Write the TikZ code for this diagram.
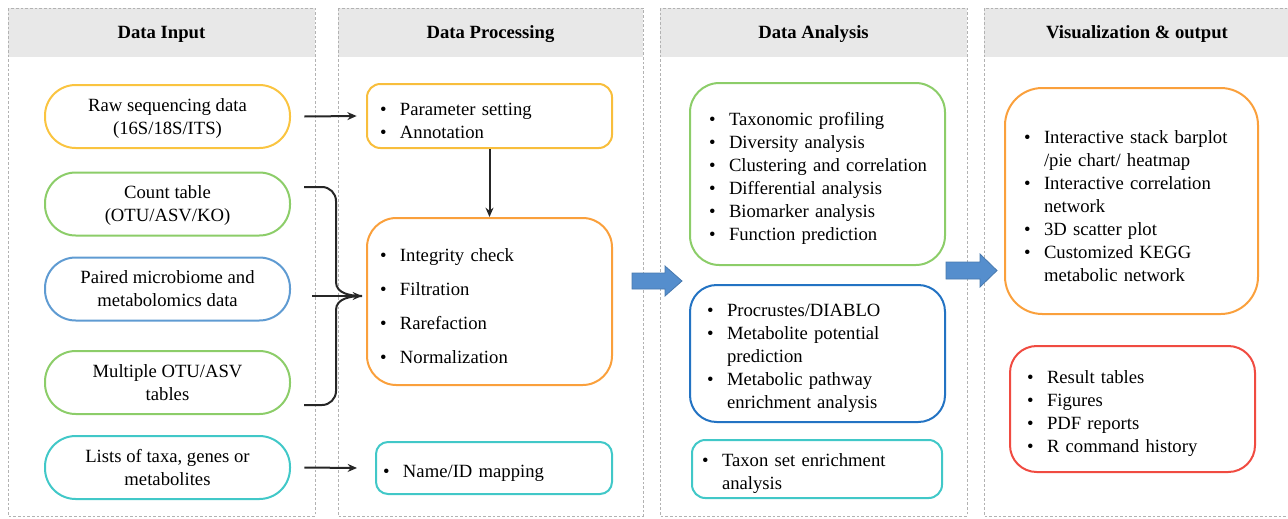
\documentclass[tikz,border=0pt]{standalone}
\usepackage{fontspec}
\setmainfont{Liberation Serif}
\usetikzlibrary{arrows.meta}

\definecolor{colraw}{RGB}{250,196,64}
\definecolor{colgreen}{RGB}{140,205,105}
\definecolor{colpaired}{RGB}{95,155,210}
\definecolor{colteal}{RGB}{65,200,200}
\definecolor{colparam}{RGB}{248,190,60}
\definecolor{colorange}{RGB}{250,160,60}
\definecolor{coldeep}{RGB}{35,115,195}
\definecolor{colred}{RGB}{240,75,65}
\definecolor{arrowblue}{RGB}{85,142,205}

% bullet item and its continuation line
\newcommand{\itm}[1]{\mbox{\makebox[15pt][l]{\textbullet}#1}}
\newcommand{\cnt}[1]{\mbox{\hspace*{15pt}#1}}

\begin{document}
\begin{tikzpicture}[x=0.75pt,y=-0.75pt,
  column/.style={draw=black!30,dash pattern=on 2pt off 1.5pt,line width=0.6pt},
  head/.style={fill=black!9},
  title/.style={font=\fontsize{14pt}{17pt}\selectfont\bfseries},
  pill/.style={draw=#1,line width=1.5pt,rounded corners=23pt,minimum width=183.75pt,
    minimum height=47.25pt,align=center,text depth=0pt,
    font=\fontsize{14pt}{17.25pt}\selectfont},
  box/.style={draw=#1,line width=1.5pt,align=left,inner ysep=0pt,
    execute at begin node={\rule{0pt}{17pt}},
    font=\fontsize{14pt}{17.25pt}\selectfont},
  flow/.style={-{Stealth[length=7pt,width=6pt]},line width=1.5pt,black!85},
  bigarrow/.style={fill=arrowblue,draw=arrowblue!85!black,line width=0.6pt}]
\useasboundingbox (0,0) rectangle (1288,518);

% columns
\fill[head] (8,8) rectangle (315,57);
\draw[column] (8,8) rectangle (315,516);
\node[title] (hin) at (161.5,34) {Data Input};
\fill[head] (338,8) rectangle (643,57);
\draw[column] (338,8) rectangle (643,516);
\node[title] (hproc) at (490.5,34) {Data Processing};
\fill[head] (660,8) rectangle (967,57);
\draw[column] (660,8) rectangle (967,516);
\node[title] (hana) at (813.5,34) {Data Analysis};
\fill[head] (984,8) rectangle (1295,57);
\draw[column] (984,8) rectangle (1295,516);
\node[title] (hvis) at (1137,34) {Visualization \& output};

% inputs
\node[pill=colraw] (raw) at (167.5,116.5) {Raw sequencing data\\(16S/18S/ITS)};
\node[pill=colgreen] (count) at (167.5,204) {Count table\\(OTU/ASV/KO)};
\node[pill=colpaired] (paired) at (167.5,289) {Paired microbiome and\\metabolomics data};
\node[pill=colgreen] (multi) at (167.5,382.5) {Multiple OTU/ASV\\tables};
\node[pill=colteal] (lists) at (167.5,467.5) {Lists of taxa, genes or\\metabolites};

% processing
\node[box=colparam,rounded corners=10pt,text width=164.25pt,inner xsep=9.75pt,
  minimum height=48pt] (param) at (489.5,116)
  {\itm{Parameter setting}\\\itm{Annotation}};
\node[box=colorange,rounded corners=22pt,text width=164.25pt,inner xsep=9.75pt,
  minimum height=125.25pt,font=\fontsize{14pt}{25.5pt}\selectfont] (integ) at (489.5,301.5)
  {\itm{Integrity check}\\\itm{Filtration}\\\itm{Rarefaction}\\\itm{Normalization}};
\node[box=colteal,rounded corners=9pt,text width=166.5pt,inner xsep=5.25pt,
  minimum height=39pt] (nameid) at (494,468) {\itm{Name/ID mapping}};

% analysis
\node[box=colgreen,rounded corners=22pt,text width=162.75pt,inner xsep=14.25pt,
  minimum height=136.5pt] (taxa) at (817.5,174)
  {\itm{Taxonomic profiling}\\\itm{Diversity analysis}\\\itm{Clustering and correlation}\\
   \itm{Differential analysis}\\\itm{Biomarker analysis}\\\itm{Function prediction}};
\node[box=coldeep,rounded corners=20pt,text width=165.75pt,inner xsep=12.75pt,
  minimum height=102.75pt] (procr) at (817.5,353.5)
  {\itm{Procrustes/DIABLO}\\\itm{Metabolite potential}\\\cnt{prediction}\\
   \itm{Metabolic pathway}\\\cnt{enrichment analysis}};
\node[box=colteal,rounded corners=10pt,text width=172.5pt,inner xsep=7.5pt,
  minimum height=43.5pt] (taxset) at (817,469)
  {\itm{Taxon set enrichment}\\\cnt{analysis}};

% output
\node[box=colorange,rounded corners=28pt,text width=161.25pt,inner xsep=14.25pt,
  minimum height=169.5pt] (vis) at (1131.5,201)
  {\itm{Interactive stack barplot}\\\cnt{/pie chart/ heatmap}\\\itm{Interactive correlation}\\
   \cnt{network}\\\itm{3D scatter plot}\\\itm{Customized KEGG}\\\cnt{metabolic network}};
\node[box=colred,rounded corners=20pt,text width=158.25pt,inner xsep=12.75pt,
  minimum height=94.5pt] (result) at (1132.5,409)
  {\itm{Result tables}\\\itm{Figures}\\\itm{PDF reports}\\\itm{R command history}};

% connectors
\draw[flow] ([xshift=10pt]raw.east) -- ([xshift=-7pt]param.west);
\draw[flow] (param.south) -- (integ.north);
\draw[flow] ([xshift=10pt]lists.east) -- ([xshift=-13.5pt]nameid.west);

% brace gathering the table inputs
\coordinate (bt) at (304,187);
\coordinate (bb) at (304,405);
\coordinate (bin) at (312,296);
\coordinate (btip) at (362,296);
\draw[line width=1.5pt,black!85] (bt) -- (322,187) to[out=0,in=90] (336,201) -- (336,282)
  to[out=-90,in=180] (btip) to[out=180,in=90] (336,310) -- (336,391)
  to[out=-90,in=0] (322,405) -- (bb);
\draw[flow] (bin) -- (btip);

% block arrows between stages
\draw[bigarrow] (632,273) -- (665,273) -- (665,266) -- (682,281) -- (665,296)
  -- (665,289) -- (632,289) -- cycle;
\draw[bigarrow] (946,262) -- (980,262) -- (980,254) -- (997,270.5) -- (980,287)
  -- (980,279) -- (946,279) -- cycle;
\end{tikzpicture}
\end{document}
